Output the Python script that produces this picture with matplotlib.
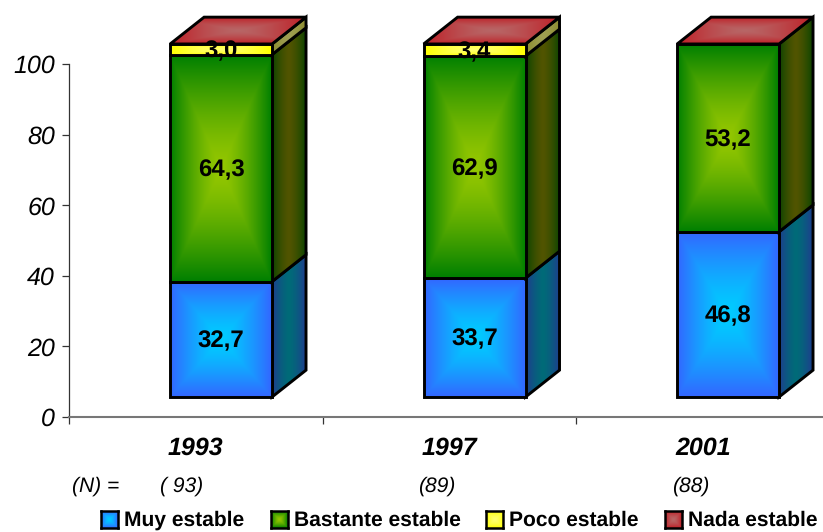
import matplotlib
matplotlib.use('Agg')
import matplotlib.pyplot as plt
import numpy as np
from matplotlib.patches import Polygon

plt.rcParams['font.family'] = ['Liberation Sans', 'DejaVu Sans']
plt.rcParams['text.hinting'] = 'no_hinting'
plt.rcParams['text.hinting_factor'] = 1

###DATA###
years = ['1993', '1997', '2001']
n_labels = ['( 93)', '(89)', '(88)']
series = ['Muy estable', 'Bastante estable', 'Poco estable', 'Nada estable']
muy = [32.7, 33.7, 46.8]
bastante = [64.3, 62.9, 53.2]
poco = [3.0, 3.4, 0]
nada = [0, 0, 0]
y_ticks = [0, 20, 40, 60, 80, 100]

###STYLE###
# (edge, centre) of the gradients, 0-1 rgb
front_cols = [((.20, .40, 1.0), (.0, .80, 1.0)),
              ((.0, .50, .0), (.58, .78, .0)),
              ((1.0, 1.0, .0), (1.0, 1.0, .45)),
              ((.75, .12, .15), (.72, .40, .40))]
side_cols = [((.12, .24, .56), (.0, .42, .47)),
             ((.05, .27, .0), (.32, .33, .0)),
             ((.55, .55, .18), (.62, .62, .32)),
             ((.45, .06, .08), (.45, .2, .2))]
top_cols = front_cols[3]

bar_w = .402      # in category units
x_off = .10       # front face offset from the category centre
y_off = 5.67      # floor offset
dx = .134         # depth
dy = 7.6
lw = 2.1


def gradient(edge, centre, mode):
    v, u = np.mgrid[-1:1:120j, -1:1:120j]
    if mode == 'box':
        t = np.maximum(np.abs(u), np.abs(v)) ** 1.4
    else:
        t = np.abs(u) ** 1.4
    t = t[..., None]
    return np.array(centre) + (np.array(edge) - np.array(centre)) * t


def face(ax, pts, cols, mode, z):
    pts = np.array(pts)
    poly = Polygon(pts, closed=True, fc='none', ec='k', lw=lw, zorder=z + .1, joinstyle='miter')
    ax.add_patch(poly)
    im = ax.imshow(gradient(cols[0], cols[1], mode), aspect='auto', zorder=z, interpolation='bilinear',
                   extent=[pts[:, 0].min(), pts[:, 0].max(), pts[:, 1].min(), pts[:, 1].max()])
    im.set_clip_path(poly)


###PLOT###
fig = plt.figure(figsize=(8.23, 5.32), dpi=100)
ax = fig.add_axes([69 / 823, (532 - 417) / 532, (823 - 69) / 823, 417 / 532])

stack = np.array([muy, bastante, poco, nada])
for i, year in enumerate(years):
    x0 = i + .5 + x_off - bar_w / 2
    x1 = x0 + bar_w
    base = y_off
    z = 2
    for j in range(4):
        val = stack[j, i]
        if val == 0:
            continue
        top = base + val
        face(ax, [(x1, base), (x1 + dx, base + dy), (x1 + dx, top + dy), (x1, top)], side_cols[j], 'x', z)
        face(ax, [(x0, base), (x1, base), (x1, top), (x0, top)], front_cols[j], 'box', z + 1)
        ax.text((x0 + x1) / 2, (base + top) / 2 - .5, f'{val:.1f}'.replace('.', ','), ha='center', va='center',
                fontsize=17.5, fontweight='bold', zorder=20)
        base = top
        z += 2
    face(ax, [(x0, base), (x1, base), (x1 + dx, base + dy), (x0 + dx, base + dy)], top_cols, 'box', z)

ax.set_xlim(0, (823 - 69) / 253.5)
ax.set_ylim(0, 417 / 3.53)

for s in ['top', 'right']:
    ax.spines[s].set_visible(False)
ax.spines['left'].set_bounds(0, 100)
ax.spines['left'].set_color('#333333')
ax.spines['left'].set_linewidth(.9)
ax.spines['bottom'].set_color('#777777')
ax.spines['bottom'].set_linewidth(1.5)

ax.set_yticks(y_ticks)
ax.set_yticklabels([str(t) for t in y_ticks], fontsize=18, fontstyle='italic')
ax.tick_params(axis='y', length=5, width=.9, color='#333333', pad=5)
ax.set_xticks([0, 1, 2])
ax.set_xticklabels([])
ax.tick_params(axis='x', which='major', length=5, width=.9, color='#333333')
ax.set_xticks(np.arange(3) + .5, minor=True)
ax.set_xticklabels(years, minor=True, fontsize=18, fontweight='bold', fontstyle='italic')
ax.tick_params(axis='x', which='minor', length=0, pad=14)

# (N) row
fig.text(96 / 823, 1 - 486 / 532, '(N) =', ha='center', va='center', fontsize=15, fontstyle='italic')
for xp, lab in zip([182, 437, 691], n_labels):
    fig.text(xp / 823, 1 - 486 / 532, lab, ha='center', va='center', fontsize=15, fontstyle='italic')

# legend
for xp, lab, cols in zip([101, 271, 486, 665], series, front_cols):
    sw = fig.add_axes([xp / 823, (532 - 528) / 532, 17 / 823, 17 / 532])
    sw.imshow(gradient(cols[0], cols[1], 'box'), aspect='auto', interpolation='bilinear')
    sw.set_xticks([])
    sw.set_yticks([])
    for sp in sw.spines.values():
        sp.set_linewidth(1.8)
    fig.text((xp + 23) / 823, 1 - 520 / 532, lab, ha='left', va='center', fontsize=15.2, fontweight='bold')

fig.savefig('out.png', dpi=100)
